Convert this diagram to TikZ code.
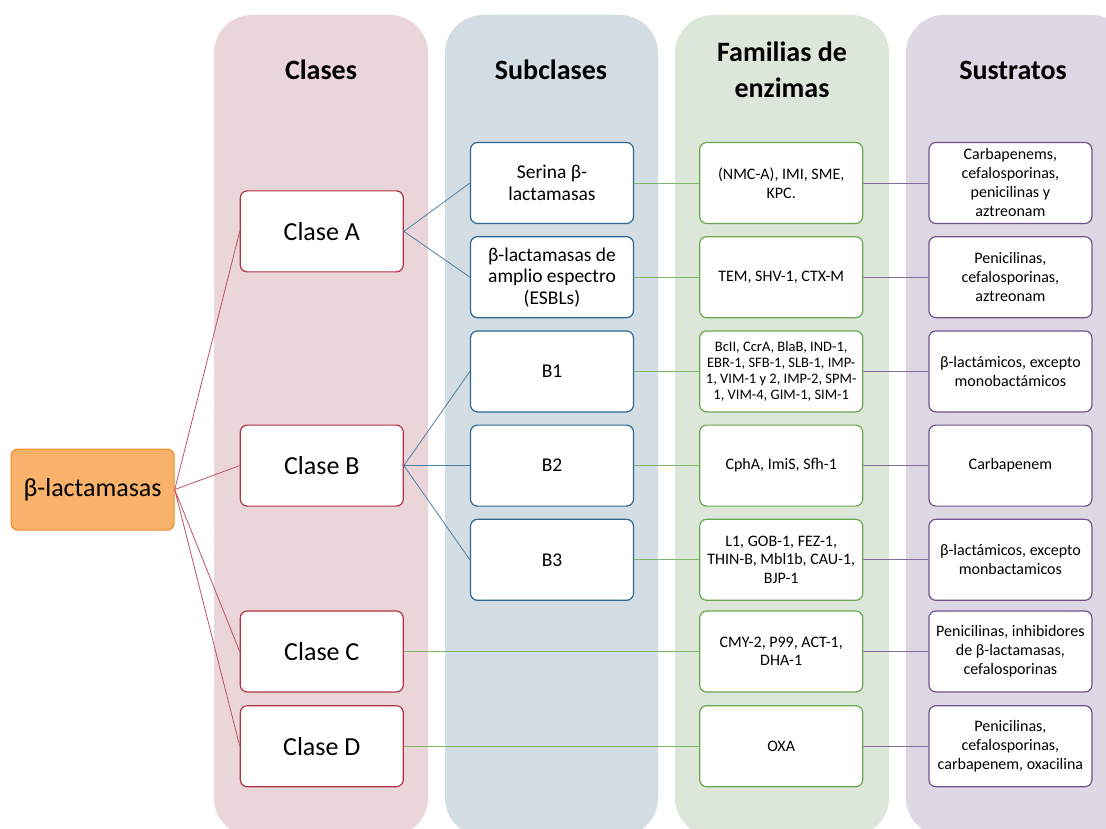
\documentclass[tikz,border=0pt]{standalone}
\usepackage{fontspec}
\setmainfont{Carlito}
\usepackage{tikz}
\usetikzlibrary{positioning}
\definecolor{clasered}{RGB}{176,52,70}
\definecolor{subblue}{RGB}{46,104,146}
\definecolor{famgreen}{RGB}{106,168,79}
\definecolor{sustpurple}{RGB}{112,84,140}
\definecolor{rootfill}{RGB}{249,178,107}
\definecolor{rootdraw}{RGB}{240,138,36}
\definecolor{bgclases}{RGB}{234,214,216}
\definecolor{bgsub}{RGB}{210,222,228}
\definecolor{bgfam}{RGB}{221,231,217}
\definecolor{bgsust}{RGB}{221,216,228}
\tikzset{
    basebox/.style={
        draw,
        rounded corners=7pt,
        fill=white,
        align=center,
        minimum width=163pt,
        minimum height=81pt,
        inner sep=2pt,
        line width=1.2pt
    },
    rootbox/.style={basebox, draw=rootdraw, fill=rootfill, font=\fontsize{26}{30}\selectfont},
    clasebox/.style={basebox, draw=clasered, font=\fontsize{26}{30}\selectfont},
    subbox/.style={basebox, draw=subblue, font=\fontsize{19.5}{21.5}\selectfont},
    fambox/.style={basebox, draw=famgreen, font=\fontsize{16}{18.5}\selectfont},
    sustbox/.style={basebox, draw=sustpurple, font=\fontsize{16}{19}\selectfont},
    headtext/.style={align=center, font=\bfseries\fontsize{28}{36}\selectfont},
    redline/.style={clasered!85, line width=0.8pt},
    blueline/.style={subblue!85, line width=0.8pt},
    greenline/.style={famgreen!85, line width=0.8pt},
    purpleline/.style={sustpurple!85, line width=0.8pt}
}

\begin{document}
\begin{tikzpicture}[x=1pt,y=1pt]
        \useasboundingbox (0,0) rectangle (1106,-829);
        \clip (0,0) rectangle (1106,-829);
        % column backgrounds
        \fill[bgclases, rounded corners=38pt] (214,-15) rectangle (428,-836);
        \fill[bgsub, rounded corners=38pt] (445,-15) rectangle (658,-836);
        \fill[bgfam, rounded corners=38pt] (675,-15) rectangle (889,-836);
        \fill[bgsust, rounded corners=38pt] (906,-15) rectangle (1130,-836);

        \node[headtext] (hclases) at (321,-70) {Clases};
        \node[headtext] (hsub) at (551,-70) {Subclases};
        \node[headtext] (hfam) at (782,-70) {Familias de\\enzimas};
        \node[headtext] (hsust) at (1013,-70) {Sustratos};

        \node[subbox] (serina) at (552,-183) {Serina β-\\lactamasas};
        \node[subbox, below = 12pt of serina] (esbl) {β-lactamasas de\\amplio espectro\\(ESBLs)};
        \node[subbox, below = 12pt of esbl] (bone) {B1};
        \node[subbox, below = 12pt of bone] (btwo) {B2};
        \node[subbox, below = 12pt of btwo] (bthree) {B3};

        \node[fambox, right = 65pt of serina] (nmc) {(NMC-A), IMI, SME,\\KPC.};
        \node[fambox, right = 65pt of esbl] (tem) {TEM, SHV-1, CTX-M};
        \node[fambox, right = 65pt of bone, font=\fontsize{14.5}{16}\selectfont] (bcii) {BcII, CcrA, BlaB, IND-1,\\EBR-1, SFB-1, SLB-1, IMP-\\1, VIM-1 y 2, IMP-2, SPM-\\1, VIM-4, GIM-1, SIM-1};
        \node[fambox, right = 65pt of btwo] (cpha) {CphA, ImiS, Sfh-1};
        \node[fambox, right = 65pt of bthree] (lone) {L1, GOB-1, FEZ-1,\\THIN-B, Mbl1b, CAU-1,\\BJP-1};
        \node[fambox, below = 9.5pt of lone] (cmy) {CMY-2, P99, ACT-1,\\DHA-1};
        \node[fambox, below = 12.5pt of cmy] (oxa) {OXA};

        \node[sustbox, right = 65pt of nmc] (sone) {Carbapenems,\\cefalosporinas,\\penicilinas y\\aztreonam};
        \node[sustbox, right = 65pt of tem] (stwo) {Penicilinas,\\cefalosporinas,\\aztreonam};
        \node[sustbox, right = 65pt of bcii] (sthree) {β-lactámicos, excepto\\monobactámicos};
        \node[sustbox, right = 65pt of cpha] (sfour) {Carbapenem};
        \node[sustbox, right = 65pt of lone] (sfive) {β-lactámicos, excepto\\monbactamicos};
        \node[sustbox, right = 65pt of cmy] (ssix) {Penicilinas, inhibidores\\de β-lactamasas,\\cefalosporinas};
        \node[sustbox, right = 65pt of oxa] (sseven) {Penicilinas,\\cefalosporinas,\\carbapenem, oxacilina};

        \node[clasebox, left = 66pt of btwo] (claseB) {Clase B};
        \node[clasebox, above = 152pt of claseB] (claseA) {Clase A};
        \node[clasebox] (claseC) at (claseB |- cmy) {Clase C};
        \node[clasebox] (claseD) at (claseB |- oxa) {Clase D};
        \node[rootbox, left = 65pt of claseB, yshift=-24pt] (blact) {β-lactamasas};

        \draw[redline] (claseA.west) -- (blact.east) -- (claseB.west);
        \draw[redline] (claseC.west) -- (blact.east) -- (claseD.west);
        \draw[blueline] (serina.west) -- (claseA.east) -- (esbl.west);
        \draw[blueline] (bone.west) -- (claseB.east) -- (bthree.west);
        \draw[blueline] (claseB.east) -- (btwo.west);
        \draw[greenline] (serina) -- (nmc);
        \draw[greenline] (esbl) -- (tem);
        \draw[greenline] (bone) -- (bcii);
        \draw[greenline] (btwo) -- (cpha);
        \draw[greenline] (bthree) -- (lone);
        \draw[greenline] (claseC) -- (cmy);
        \draw[greenline] (claseD) -- (oxa);
        \draw[purpleline] (nmc) -- (sone);
        \draw[purpleline] (tem) -- (stwo);
        \draw[purpleline] (bcii) -- (sthree);
        \draw[purpleline] (cpha) -- (sfour);
        \draw[purpleline] (lone) -- (sfive);
        \draw[purpleline] (cmy) -- (ssix);
        \draw[purpleline] (oxa) -- (sseven);
    \end{tikzpicture}
\end{document}
